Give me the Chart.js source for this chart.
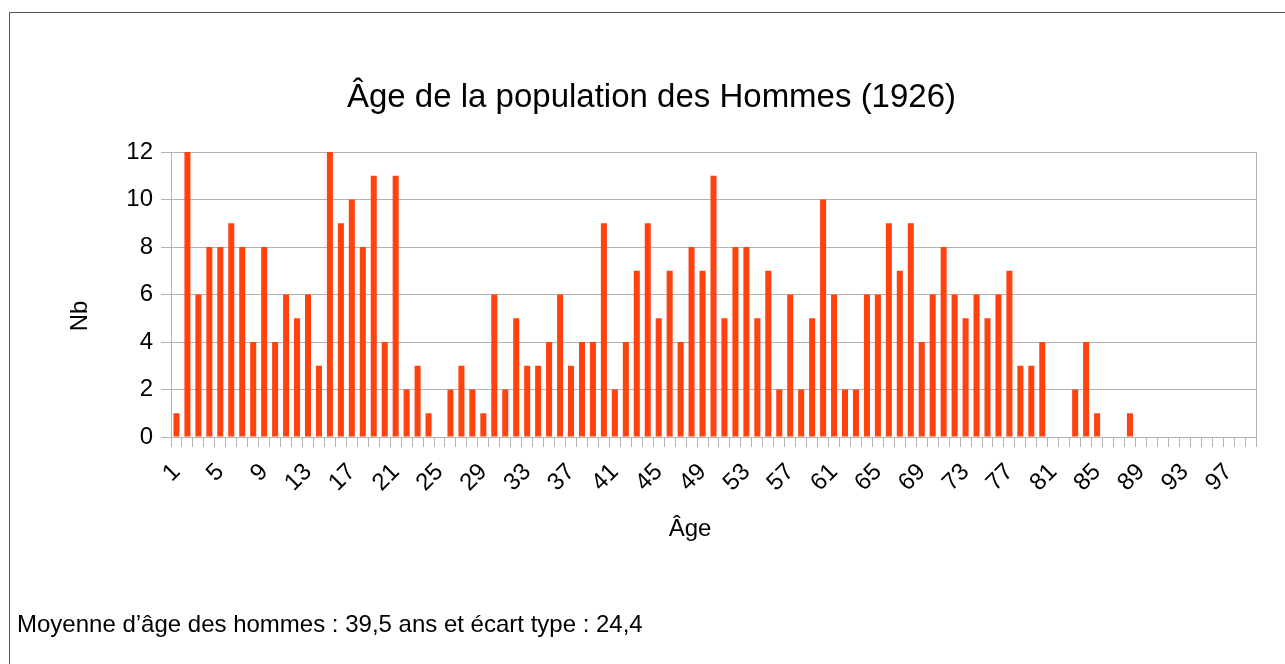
<!DOCTYPE html>
<html>
<head>
<meta charset="utf-8">
<script src="https://cdn.jsdelivr.net/npm/chart.js@4/dist/chart.umd.min.js"></script>
<style>
    html, body { margin: 0; padding: 0; background: #fff; }
    #wrap { position: relative; width: 1285px; height: 664px; overflow: hidden; }
    #frame {
        position: absolute; left: 9px; top: 12px; width: 1300px; height: 700px;
        border-left: 1px solid #555; border-top: 1px solid #555; box-sizing: border-box;
    }
    #note {
        position: absolute; left: 17px; top: 610px;
        font-family: "Liberation Sans", Arial, sans-serif; font-size: 24px; color: #000;
    }
    canvas { position: absolute; left: 0; top: 0; }
</style>
</head>
<body>
<div id="wrap">
    <div id="frame"></div>
    <canvas id="ages" width="1285" height="664"></canvas>
    <div id="note">Moyenne d’âge des hommes : 39,5 ans et écart type : 24,4</div>
</div>
<script>
const ages = [];
for (let a = 1; a <= 99; a++) ages.push(String(a));

// nombre d'hommes par âge (1 à 99)
const counts = [
    1, 12, 6, 8, 8, 9, 8, 4, 8, 4,
    6, 5, 6, 3, 12, 9, 10, 8, 11, 4,
    11, 2, 3, 1, 0, 2, 3, 2, 1, 6,
    2, 5, 3, 3, 4, 6, 3, 4, 4, 9,
    2, 4, 7, 9, 5, 7, 4, 8, 7, 11,
    5, 8, 8, 5, 7, 2, 6, 2, 5, 10,
    6, 2, 2, 6, 6, 9, 7, 9, 4, 6,
    8, 6, 5, 6, 5, 6, 7, 3, 3, 4,
    0, 0, 2, 4, 1, 0, 0, 1, 0, 0,
    0, 0, 0, 0, 0, 0, 0, 0, 0
];
const yTicks = [0, 2, 4, 6, 8, 10, 12];
const xTitle = "Âge";
const yTitle = "Nb";

const font = "'Liberation Sans', Arial, sans-serif";
const grey = "#b3b3b3";

// ligne droite du cadre + titres des axes
const extras = {
    id: "extras",
    afterDraw(chart) {
        const { ctx, chartArea } = chart;
        ctx.save();
        ctx.strokeStyle = grey;
        ctx.lineWidth = 1;
        ctx.beginPath();
        ctx.moveTo(chartArea.right + 0.5, chartArea.top);
        ctx.lineTo(chartArea.right + 0.5, chartArea.bottom + 10);
        ctx.stroke();

        ctx.fillStyle = "#000";
        ctx.font = "24px " + font;
        ctx.textAlign = "center";
        ctx.textBaseline = "middle";
        ctx.fillText(xTitle, 690, 529);
        ctx.translate(80, 316);
        ctx.rotate(-Math.PI / 2);
        ctx.fillText(yTitle, 0, 0);
        ctx.restore();
    }
};

new Chart(document.querySelector("#ages"), {
    type: "bar",
    data: {
        labels: ages,
        datasets: [{
            label: yTitle,
            data: counts,
            backgroundColor: "#ff420e",
            categoryPercentage: 1,
            barPercentage: 0.55
        }]
    },
    plugins: [extras],
    options: {
        responsive: false,
        animation: false,
        layout: { padding: { left: 18, right: 0, top: 0, bottom: 0 } },
        plugins: {
            legend: { display: false },
            tooltip: { enabled: false },
            title: {
                display: true,
                text: "Âge de la population des Hommes (1926)",
                color: "#000",
                font: { family: font, size: 33, weight: "normal" },
                padding: { top: 78, bottom: 34.4 }
            }
        },
        scales: {
            x: {
                offset: true,
                grid: { offset: true, drawOnChartArea: false, color: grey, tickLength: 10 },
                border: { color: grey },
                ticks: {
                    autoSkip: false,
                    minRotation: 45,
                    maxRotation: 45,
                    padding: 11,
                    color: "#000",
                    font: { family: font, size: 24 },
                    callback: (v, i) => (i % 4 === 0 ? ages[i] : "")
                },
                afterFit(scale) { scale.height = 227; }
            },
            y: {
                min: 0,
                max: 12,
                afterBuildTicks(scale) { scale.ticks = yTicks.map(v => ({ value: v })); },
                grid: { color: grey, tickLength: 10 },
                border: { color: grey },
                ticks: {
                    padding: 8,
                    color: "#000",
                    font: { family: font, size: 24 }
                },
                afterFit(scale) { scale.width = 153; }
            },
            right: {
                position: "right",
                display: true,
                grid: { display: false },
                border: { display: false },
                ticks: { display: false },
                afterFit(scale) { scale.width = 29; }
            }
        }
    }
});
</script>
</body>
</html>
